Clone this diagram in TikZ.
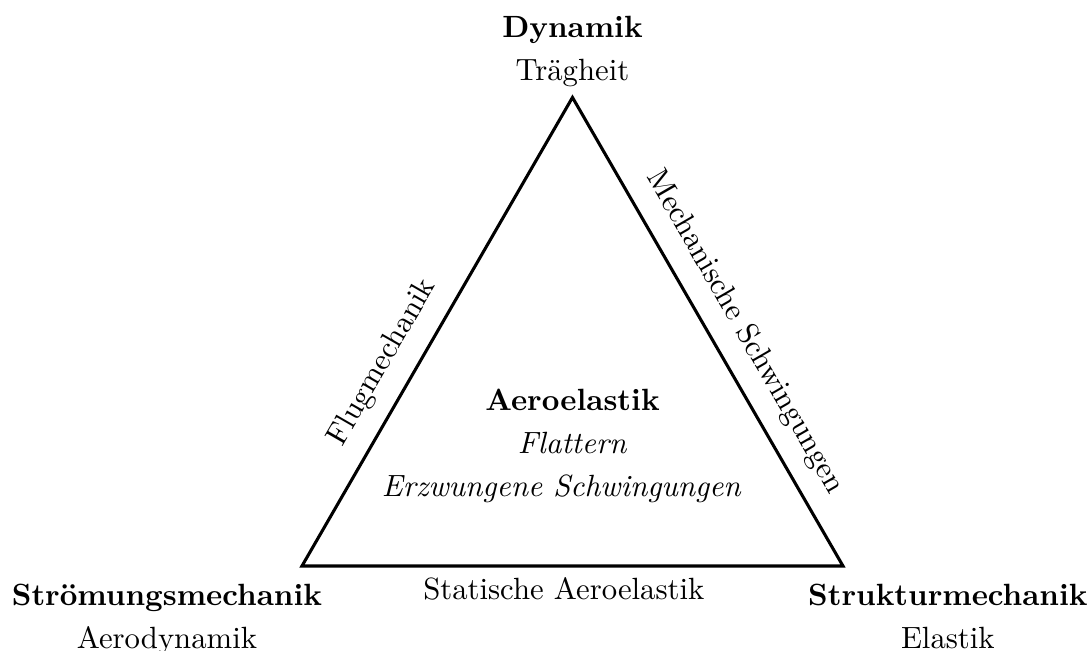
\documentclass[tikz,border=0pt]{standalone}
\usepackage{fontspec}
\usepackage{tikz}
\usetikzlibrary{positioning}
\tikzset{
	ecke/.style={align=center, anchor=north},
	kante/.style={sloped, inner sep=3.33pt},
}

\begin{document}
\begin{tikzpicture}
		\useasboundingbox (-3.455,-0.961) rectangle (9.039,6.476);
		\coordinate (S) at (0,0);
		\coordinate (K) at (6.19,0);
		\coordinate (D) at (3.095,5.361);
		\draw[line width=1pt] (S) -- node[kante, above=2pt, pos=0.40] (fm) {Flugmechanik}
			(D) -- node[kante, above=2pt, pos=0.535] (ms) {Mechanische Schwingungen}
			(K) -- node[below, pos=0.516] (sa) {Statische Aeroelastik} cycle;
		\node[above, align=center] (dy) at (D) {\textbf{Dynamik}\\[2pt] Trägheit};
		\node[ecke] (sm) at (-1.545,-0.086) {\textbf{Strömungsmechanik}\\[2pt] Aerodynamik};
		\node[ecke] (st) at (7.39,-0.086) {\textbf{Strukturmechanik}\\[2pt] Elastik};
		\node[ecke] (ae) at (3.095,2.145) {\textbf{Aeroelastik}\\[2pt] \textit{Flattern}\\[2pt] \textit{Erzwungene Schwingungen}\hspace*{7pt}};
	\end{tikzpicture}
\end{document}
